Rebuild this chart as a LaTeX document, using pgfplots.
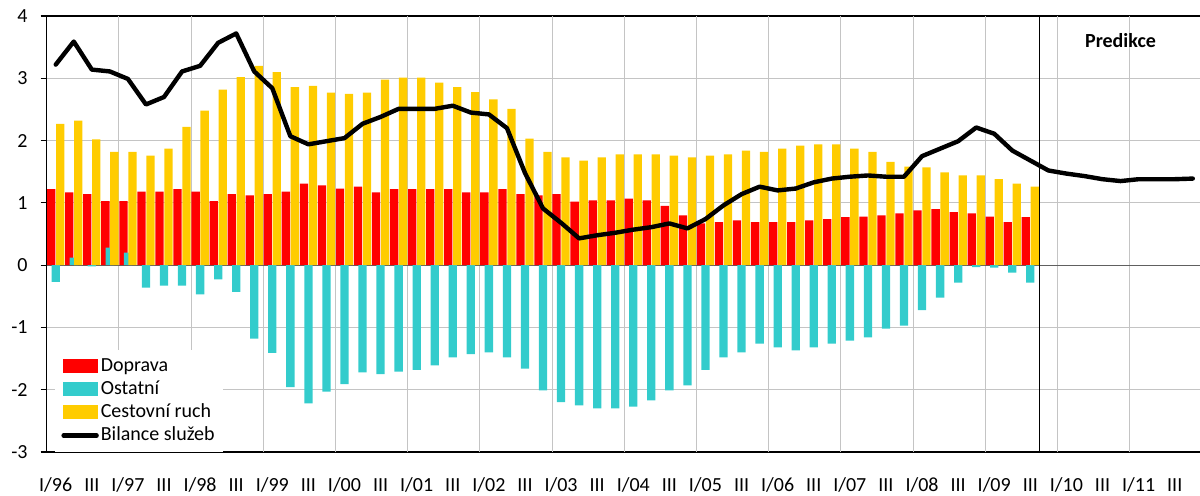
\documentclass[border=0pt]{standalone}
\usepackage{pgfplots}
\usepackage{pgfplotstable}
\pgfplotsset{compat=1.18}
\usepackage{fontspec}
\setmainfont{Carlito}
\definecolor{cRed}{HTML}{FF0000}
\definecolor{cCyan}{HTML}{33CCCC}
\definecolor{cYel}{HTML}{FFCC00}
\definecolor{cGrid}{HTML}{C4C4C4}

\pgfplotstableread{
i dop ost ces
0 1.22 -0.27 2.27
1 1.17 0.12 2.32
2 1.14 -0.02 2.02
3 1.03 0.28 1.82
4 1.03 0.20 1.82
5 1.18 -0.36 1.76
6 1.18 -0.33 1.87
7 1.22 -0.33 2.22
8 1.18 -0.47 2.48
9 1.03 -0.23 2.82
10 1.14 -0.43 3.02
11 1.12 -1.18 3.20
12 1.14 -1.41 3.10
13 1.18 -1.96 2.86
14 1.31 -2.22 2.88
15 1.28 -2.03 2.77
16 1.23 -1.91 2.75
17 1.26 -1.72 2.77
18 1.17 -1.75 2.98
19 1.22 -1.71 3.01
20 1.22 -1.68 3.01
21 1.22 -1.61 2.93
22 1.22 -1.48 2.86
23 1.17 -1.43 2.78
24 1.17 -1.40 2.66
25 1.22 -1.48 2.51
26 1.14 -1.66 2.03
27 1.12 -2.01 1.82
28 1.14 -2.20 1.73
29 1.02 -2.25 1.68
30 1.04 -2.30 1.73
31 1.04 -2.30 1.78
32 1.07 -2.27 1.78
33 1.04 -2.17 1.78
34 0.95 -2.01 1.76
35 0.80 -1.93 1.73
36 0.67 -1.68 1.76
37 0.69 -1.48 1.78
38 0.72 -1.40 1.84
39 0.69 -1.26 1.82
40 0.69 -1.32 1.87
41 0.69 -1.37 1.92
42 0.72 -1.32 1.94
43 0.74 -1.26 1.94
44 0.77 -1.21 1.87
45 0.78 -1.16 1.82
46 0.80 -1.02 1.66
47 0.83 -0.97 1.58
48 0.88 -0.72 1.57
49 0.90 -0.52 1.49
50 0.85 -0.28 1.44
51 0.83 -0.03 1.44
52 0.78 -0.04 1.38
53 0.69 -0.12 1.31
54 0.77 -0.28 1.26
}\bars

\pgfplotstableread{
i bil
0 3.22
1 3.59
2 3.14
3 3.11
4 2.99
5 2.58
6 2.70
7 3.11
8 3.20
9 3.57
10 3.72
11 3.11
12 2.84
13 2.07
14 1.94
15 1.99
16 2.04
17 2.27
18 2.38
19 2.51
20 2.51
21 2.51
22 2.56
23 2.45
24 2.42
25 2.20
26 1.48
27 0.91
28 0.68
29 0.43
30 0.48
31 0.52
32 0.57
33 0.61
34 0.67
35 0.59
36 0.74
37 0.96
38 1.14
39 1.26
40 1.20
41 1.23
42 1.33
43 1.39
44 1.42
45 1.44
46 1.42
47 1.42
48 1.75
49 1.87
50 1.99
51 2.21
52 2.11
53 1.84
54 1.68
55 1.52
56 1.47
57 1.43
58 1.38
59 1.35
60 1.38
61 1.38
62 1.38
63 1.39
}\bil

\begin{document}
\begin{tikzpicture}
\useasboundingbox (0,0) rectangle (600pt,247.5pt);
\begin{axis}[
  at={(23.35pt,21.5pt)}, anchor=south west,
  scale only axis, width=576.65pt, height=218pt,
  xmin=-0.5, xmax=63.4, ymin=-3, ymax=4,
  axis x line*=box, axis y line*=left,
  axis line style={black, line width=0.6pt, -},
  xtick={0,2,...,62},
  xticklabels={I/96,III,I/97,III,I/98,III,I/99,III,I/00,III,I/01,III,I/02,III,I/03,III,I/04,III,I/05,III,I/06,III,I/07,III,I/08,III,I/09,III,I/10,III,I/11,III},
  x tick style={draw=none},
  xticklabel style={anchor=base, yshift=-16.8pt},
  ytick={-3,-2,...,4},
  yticklabels={-3,-2,-1,0,1,2,3,4},
  y tick style={black, line width=0.6pt},
  tick align=outside, major tick length=3pt,
  yticklabel style={xshift=-3pt},
  tick label style={font=\fontsize{10}{11.5}\selectfont},
  ymajorgrids=true,
  major grid style={cGrid, line width=0.5pt},
  extra x ticks={3.5,7.5,...,59.5},
  extra x tick labels={},
  extra x tick style={xmajorgrids=true, major grid style={cGrid, line width=0.5pt}, tick style={draw=none}},
  extra y ticks={0},
  extra y tick labels={},
  extra y tick style={ymajorgrids=true, major grid style={gray!75!black, line width=0.5pt}, tick style={draw=none}},
  legend style={at={(0.0072,0)}, anchor=south west, draw=none, fill=white,
    inner xsep=3pt, inner ysep=2.5pt, row sep=0.6pt,
    font=\fontsize{10}{11.5}\selectfont,
    nodes={inner sep=1pt, text height=7pt, text depth=2pt},
    /tikz/every even column/.append style={column sep=0pt}},
  legend cell align=left,
]
\addplot[ybar, bar width=4.15pt, bar shift=-2.25pt, fill=cRed, draw=none,
  legend image code/.code={\fill[cRed] (0pt,-3.5pt) rectangle (17.5pt,3.5pt);}]
  table[x=i, y=dop] {\bars};
\addplot[ybar, bar width=4.15pt, bar shift=0pt, fill=cCyan, draw=none,
  legend image code/.code={\fill[cCyan] (0pt,-3.5pt) rectangle (17.5pt,3.5pt);}]
  table[x=i, y=ost] {\bars};
\addplot[ybar, bar width=4.15pt, bar shift=2.25pt, fill=cYel, draw=none,
  legend image code/.code={\fill[cYel] (0pt,-3.5pt) rectangle (17.5pt,3.5pt);}]
  table[x=i, y=ces] {\bars};
\addplot[black, line width=2.2pt, line join=round, line cap=round, mark=none,
  legend image code/.code={\draw[black, line width=2.2pt, line cap=round] (0.5pt,0pt) -- (17pt,0pt);}]
  table[x=i, y=bil] {\bil};
\legend{Doprava, Ostatní, Cestovní ruch, Bilance služeb}
\draw[black, line width=0.6pt] (axis cs:54.5,-3.07) -- (axis cs:54.5,4);
\node[font=\bfseries\fontsize{10}{11.5}\selectfont] at (axis cs:59,3.6) {Predikce};
\end{axis}
\end{tikzpicture}
\end{document}
